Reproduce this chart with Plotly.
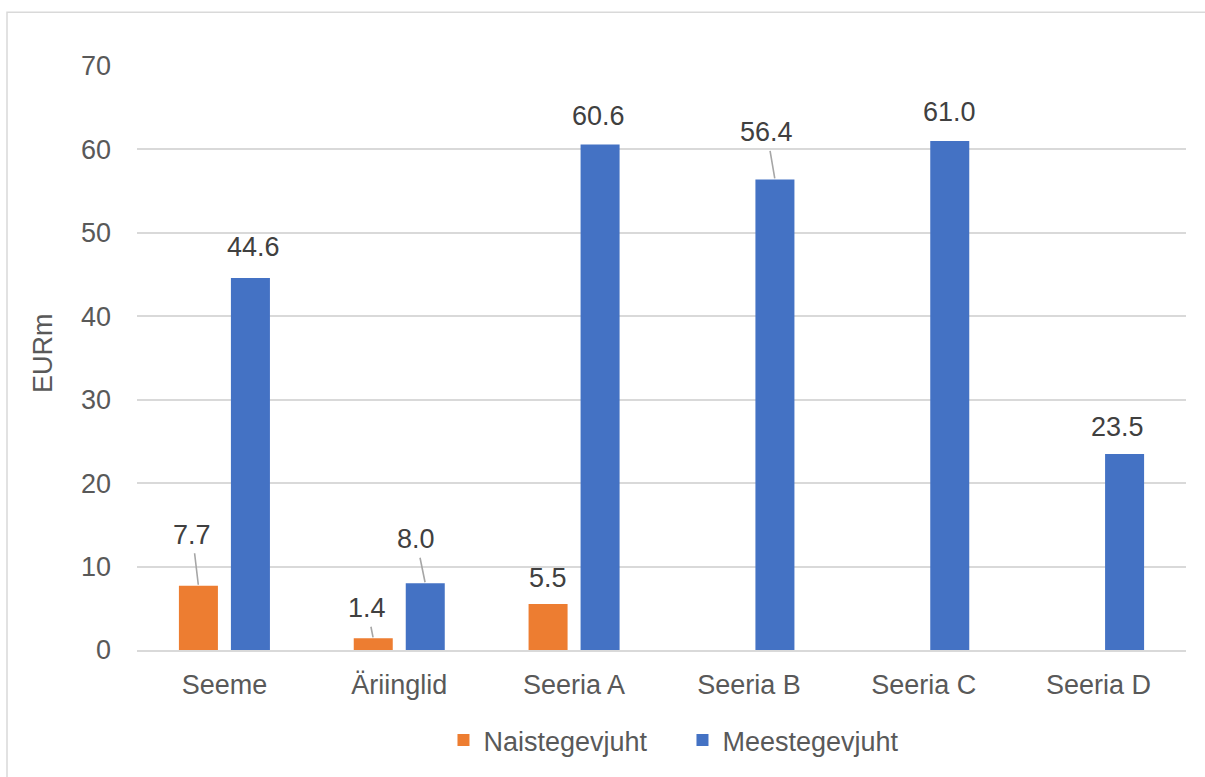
import plotly.graph_objects as go

# Funding round categories and average amounts (EURm)
categories = ["Seeme", "Äriinglid", "Seeria A", "Seeria B", "Seeria C", "Seeria D"]
series_names = ["Naistegevjuht", "Meestegevjuht"]
naised = [7.7, 1.4, 5.5, None, None, None]
mehed = [44.6, 8.0, 60.6, 56.4, 61.0, 23.5]
y_ticks = [0, 10, 20, 30, 40, 50, 60, 70]

ORANGE = "#ED7D31"
BLUE = "#4472C4"
TEXT = "#595959"
LABEL = "#404040"
GRID = "#D9D9D9"
FONT = "Liberation Sans, Arial, sans-serif"
FS = 27

W, H = 1205, 777
M_L, M_R, M_T, M_B = 137, 19, 66, 125
plot_w = W - M_L - M_R
cat_w = plot_w / len(categories)
BARGAP = 0.405
GROUPGAP = 0.25
slot = cat_w * (1 - BARGAP) / 2
bar_shift = slot / 2  # pixel offset of each bar centre from the category centre

fig = go.Figure()
fig.add_trace(go.Bar(x=categories, y=naised, name=series_names[0],
                     marker=dict(color=ORANGE, line=dict(width=0))))
fig.add_trace(go.Bar(x=categories, y=mehed, name=series_names[1],
                     marker=dict(color=BLUE, line=dict(width=0))))

# data label placement: (dx, dy) of the label centre from the bar top, and leader flag
label_pos_naised = {0: (-6, -51, True), 1: (-6, -30, True), 2: (0, -26, False)}
label_pos_mehed = {0: (3, -31, False), 1: (-9, -44, True), 2: (-2, -28, False),
                   3: (-8, -47, True), 4: (0, -29, False), 5: (-7, -27, False)}

annotations = []
for values, side, pos in ((naised, -1, label_pos_naised), (mehed, 1, label_pos_mehed)):
    for i, v in enumerate(values):
        if v is None:
            continue
        dx, dy, leader = pos[i]
        common = dict(x=categories[i], y=v, xref="x", yref="y",
                      text=f"{v:.1f}", font=dict(family=FONT, size=FS, color=LABEL))
        if leader:
            annotations.append(dict(**common, showarrow=True, ax=dx, ay=dy,
                                    xshift=side * bar_shift, arrowhead=0,
                                    arrowwidth=1.6, arrowcolor="#A6A6A6",
                                    standoff=1, startstandoff=2))
        else:
            annotations.append(dict(**common, showarrow=False,
                                    xshift=side * bar_shift + dx, yshift=-dy,
                                    yanchor="middle"))

fig.update_layout(
    width=W, height=H,
    margin=dict(l=M_L, r=M_R, t=M_T, b=M_B),
    paper_bgcolor="white", plot_bgcolor="white",
    barmode="group", bargap=BARGAP, bargroupgap=GROUPGAP,
    font=dict(family=FONT, size=FS, color=TEXT),
    xaxis=dict(showgrid=False, showline=True, linecolor=GRID, linewidth=1.5,
               ticks="", ticklabelstandoff=10,
               tickfont=dict(size=FS, color=TEXT)),
    yaxis=dict(range=[0, 70], tickvals=y_ticks, showgrid=True, gridcolor=GRID,
               gridwidth=1.5, zeroline=False, showline=False, ticks="",
               ticklabelstandoff=25, tickfont=dict(size=FS, color=TEXT)),
    legend=dict(orientation="h", x=0.520, xanchor="center", y=-0.155,
                yanchor="middle", font=dict(size=FS, color=TEXT),
                itemwidth=30, entrywidth=194, traceorder="normal"),
    annotations=annotations + [
        dict(text="EURm", xref="paper", yref="paper",
             x=(43 - M_L) / plot_w, y=(H - M_B - 354) / (H - M_T - M_B),
             textangle=-90, showarrow=False, xanchor="center", yanchor="middle",
             font=dict(family=FONT, size=FS, color=TEXT)),
    ],
    shapes=[dict(type="rect", xref="paper", yref="paper",
                 x0=(7 - M_L) / plot_w, x1=1.2,
                 y0=-0.5, y1=(H - M_B - 12) / (H - M_T - M_B),
                 line=dict(color=GRID, width=1.5), layer="below")],
)

fig.write_html("out.html")
